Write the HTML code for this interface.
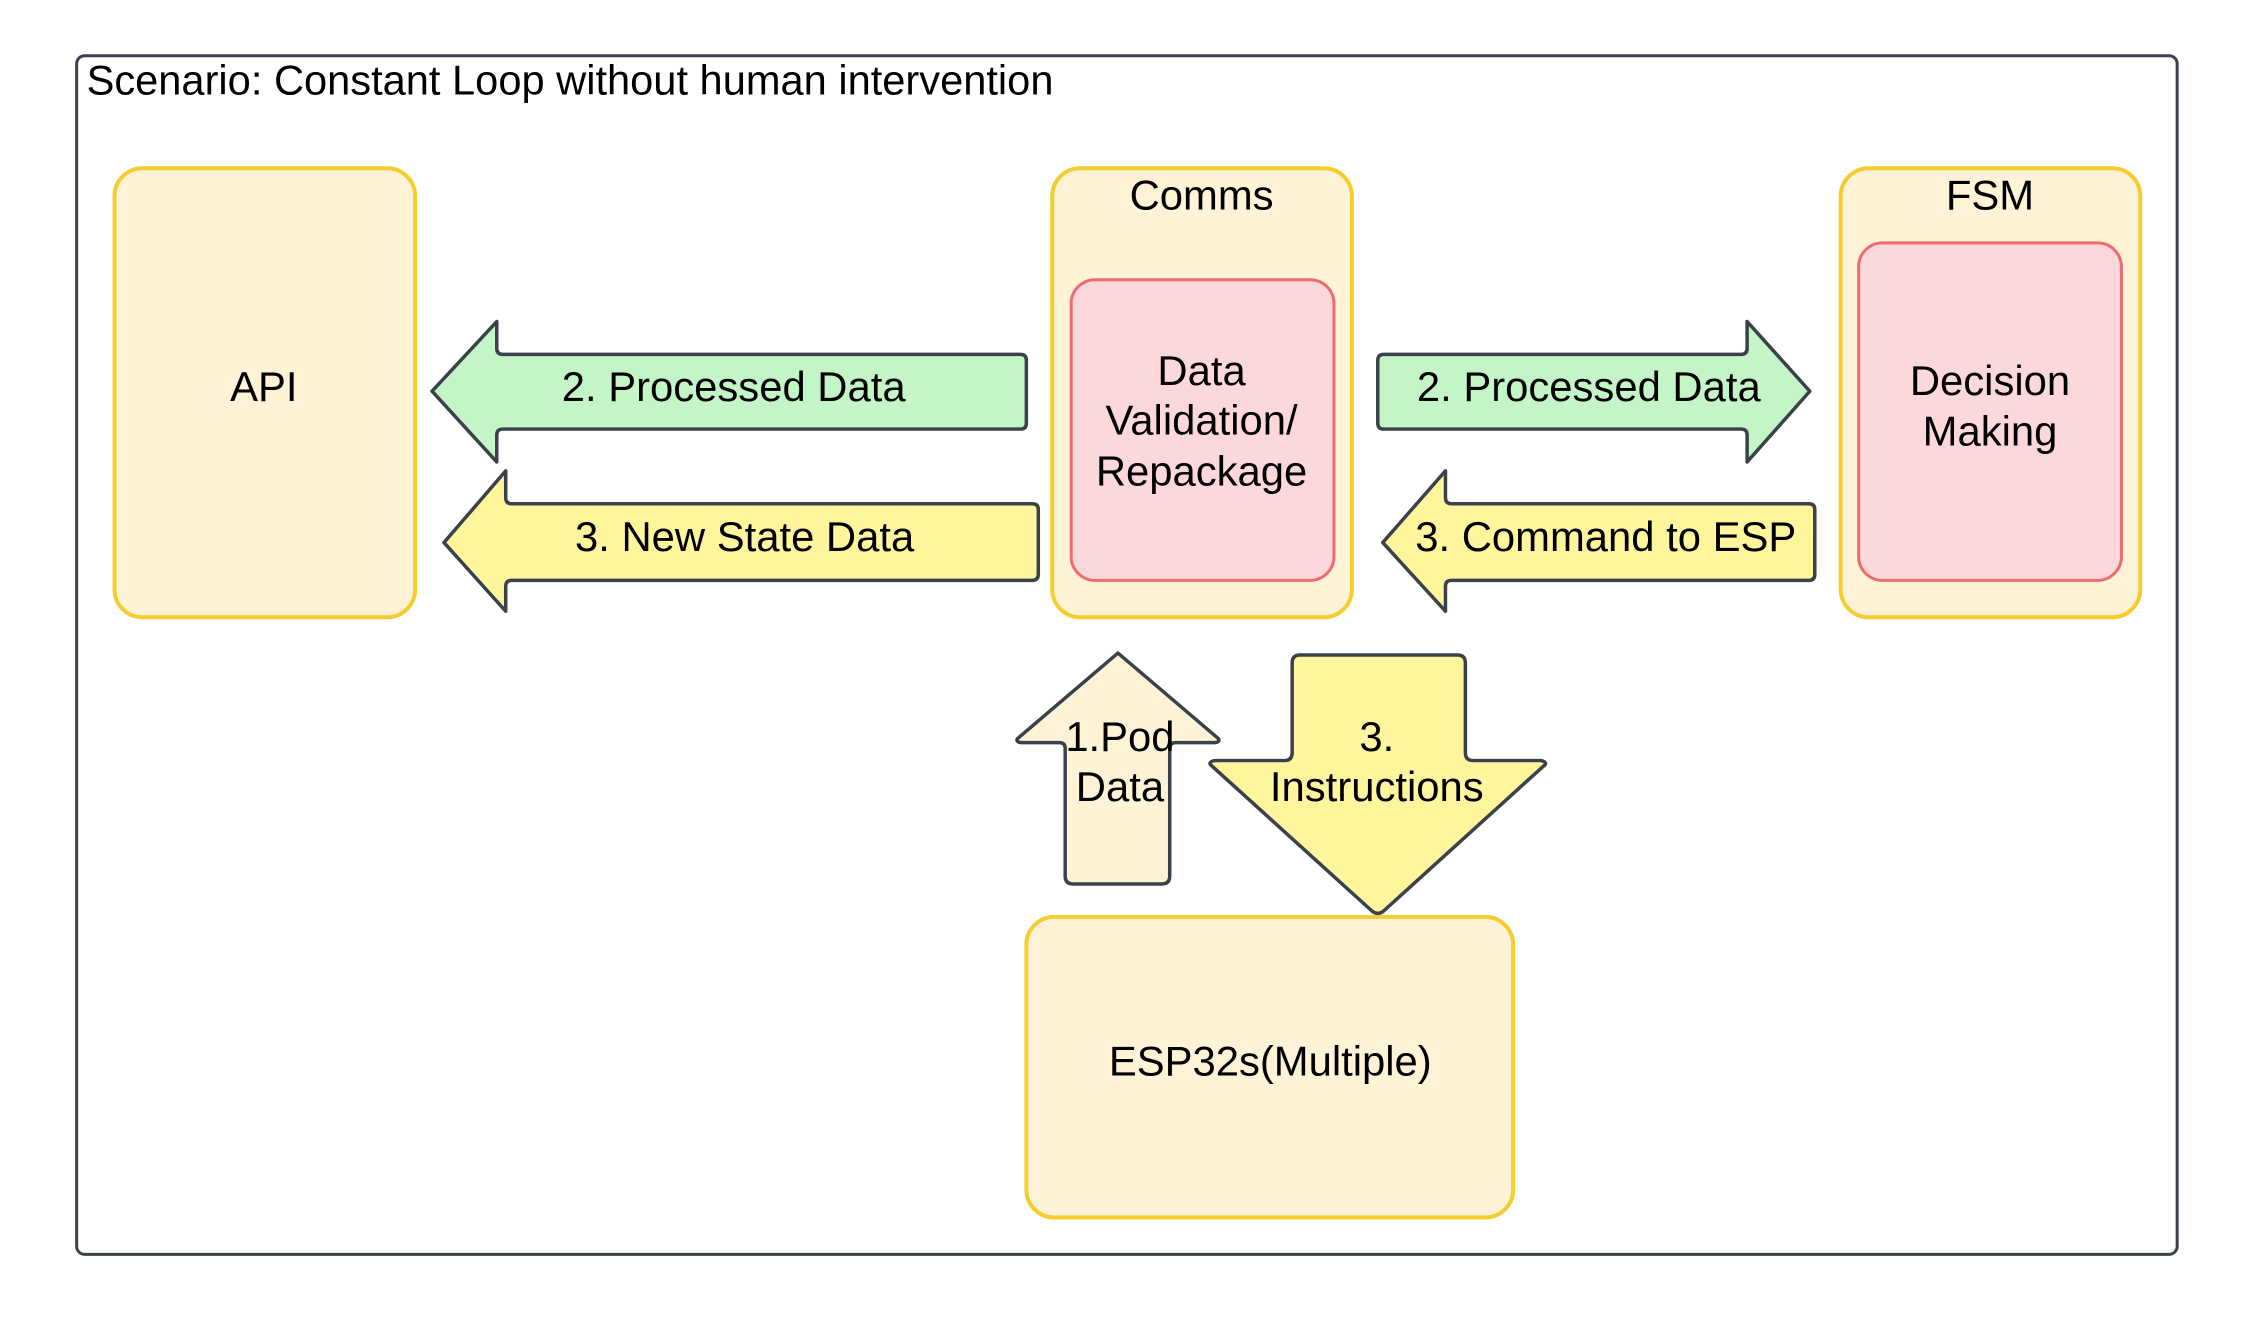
<!DOCTYPE html>
<html><head><meta charset="utf-8"><style>html,body{margin:0;padding:0;background:#fff}svg{display:block}</style></head><body>
<svg width="2250" height="1324" viewBox="0 0 2250 1324" xmlns="http://www.w3.org/2000/svg" font-family="Liberation Sans, Arial, sans-serif" font-size="42">
<rect x="0" y="0" width="2250" height="1324" fill="#fff"/>
<g transform="scale(0.9955)">
<rect x="77" y="56" width="2110" height="1204" rx="8" fill="#fff" stroke="#3a414a" stroke-width="3"/>
<text x="87" y="95" font-size="41.8" fill="#000">Scenario: Constant Loop without human intervention</text>

<g stroke="#f5cd2e" stroke-width="4" fill="#fef2d7">
<rect x="115" y="169" width="302" height="451" rx="28"/>
<rect x="1057" y="169" width="301" height="451" rx="28"/>
<rect x="1849" y="169" width="301" height="451" rx="28"/>
<rect x="1031" y="921" width="489" height="302" rx="28"/>
</g>
<g stroke="#ef6b6e" stroke-width="3" fill="#fdd8da">
<rect x="1076" y="281" width="264" height="302" rx="24"/>
<rect x="1867" y="244" width="264" height="339" rx="24"/>
</g>

<g stroke="#3a414a" stroke-width="3.5" stroke-linejoin="round">
<path fill="#c3f5c6" d="M1031 362 Q1031 356 1025 356 L505 356 Q499 356 499 350 L499 323 L434 393 L499 464 L499 437 Q499 431 505 431 L1025 431 Q1031 431 1031 425 Z"/>
<path fill="#fef59c" d="M1043 512 Q1043 506 1037 506 L514 506 Q508 506 508 500 L508 473 L446 545 L508 614 L508 589 Q508 583 514 583 L1037 583 Q1043 583 1043 577 Z"/>
<path fill="#c3f5c6" d="M1384 362 Q1384 356 1390 356 L1749 356 Q1755 356 1755 350 L1755 323 L1818 393 L1755 464 L1755 437 Q1755 431 1749 431 L1390 431 Q1384 431 1384 425 Z"/>
<path fill="#fef59c" d="M1823 512 Q1823 506 1817 506 L1458 506 Q1452 506 1452 500 L1452 473 L1389 545 L1452 614 L1452 589 Q1452 583 1458 583 L1817 583 Q1823 583 1823 577 Z"/>
<path fill="#fef2d7" d="M1123 656 L1224 742 Q1226 746 1218 746 L1181 746 Q1175 746 1175 752 L1175 880 Q1175 888 1167 888 L1078 888 Q1070 888 1070 880 L1070 752 Q1070 746 1064 746 L1028 746 Q1020 746 1022 742 Z"/>
<path fill="#fef59c" d="M1306 658 L1464 658 Q1472 658 1472 666 L1472 756 Q1472 764 1480 764 L1548 764 Q1556 766 1550 770 L1390 915 Q1384 920 1378 915 L1218 770 Q1212 766 1220 764 L1290 764 Q1298 764 1298 756 L1298 666 Q1298 658 1306 658 Z"/>
</g>

<g fill="#000" text-anchor="middle" dominant-baseline="central" font-size="42">
<text x="265" y="388">API</text>
<text x="1207" y="196">Comms</text>
<text x="1207" y="372">Data</text>
<text x="1207" y="422">Validation/</text>
<text x="1207" y="473">Repackage</text>
<text x="1999" y="196">FSM</text>
<text x="1999" y="382">Decision</text>
<text x="1999" y="433">Making</text>
<text x="1276" y="1066">ESP32s(Multiple)</text>
<text x="737" y="388">2. Processed Data</text>
<text x="1596" y="388">2. Processed Data</text>
<text x="748" y="539">3. New State Data</text>
<text x="1613" y="539">3. Command to ESP</text>
<text x="1125" y="740">1.Pod</text>
<text x="1125" y="790">Data</text>
<text x="1383" y="740">3.</text>
<text x="1383" y="790">Instructions</text>
</g>
</g>
</svg>
</body></html>
